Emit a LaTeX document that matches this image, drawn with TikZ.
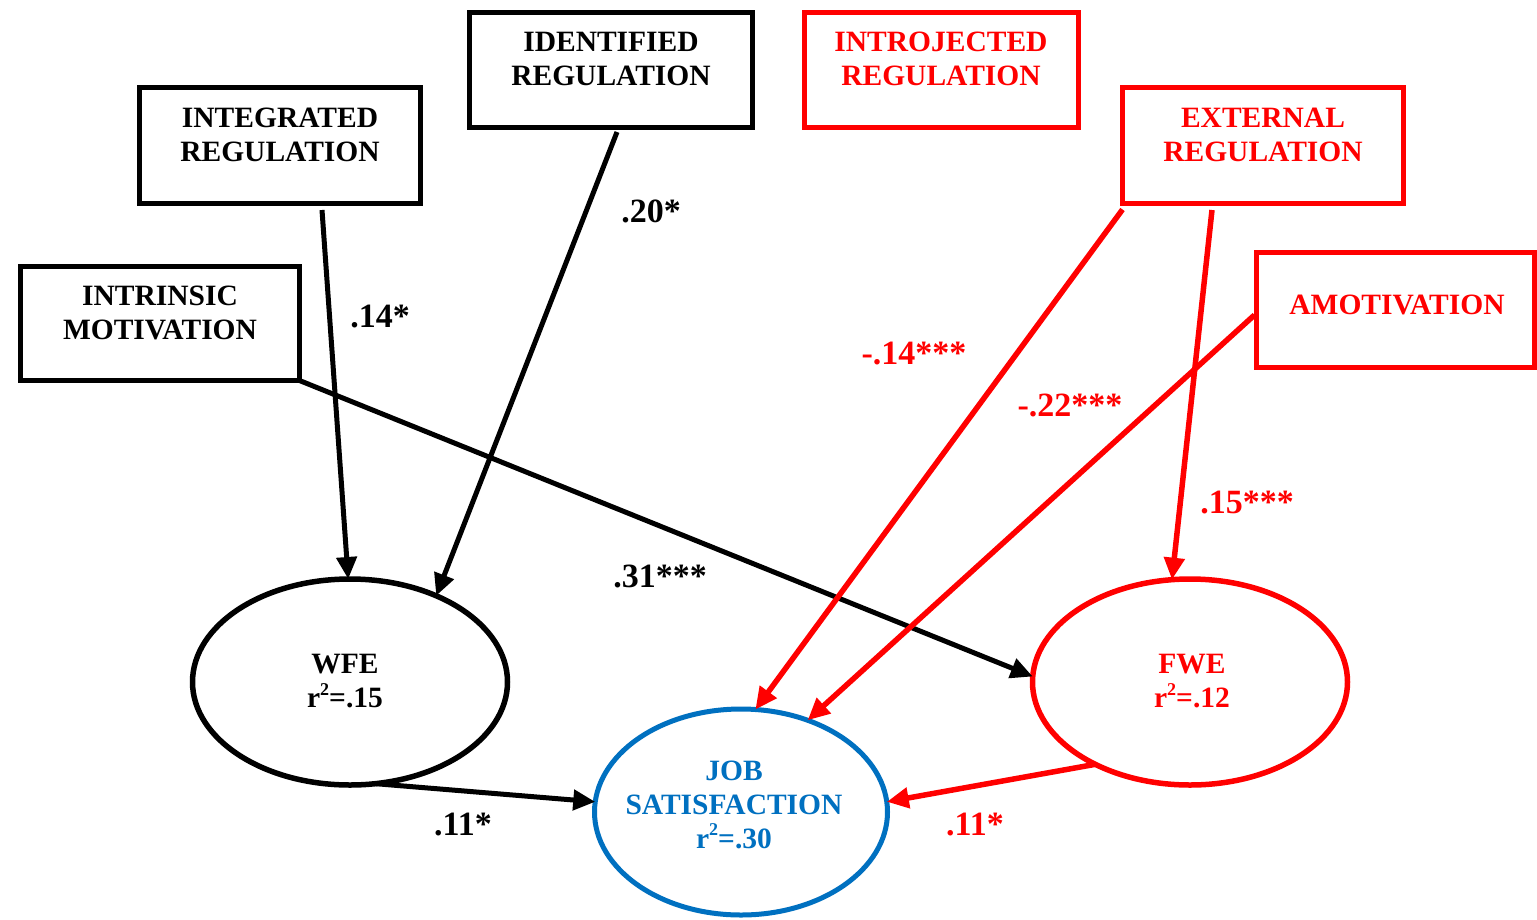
\documentclass[tikz,border=0pt]{standalone}
\usepackage{fontspec}
\setmainfont{Liberation Serif}
\usetikzlibrary{arrows.meta,calc,shapes.geometric}
\definecolor{jsblue}{HTML}{0070C0}
\definecolor{pured}{HTML}{FF0000}
\newcommand{\sqsup}{\raisebox{0.42em}{\fontsize{18}{18}\selectfont 2}}
\begin{document}
\begin{tikzpicture}[x=1pt,y=-1pt,
  box/.style={draw, line width=5.5pt, rectangle, inner sep=0pt, outer sep=0pt},
  lat/.style={draw, line width=5.5pt, ellipse, inner sep=0pt, outer sep=0pt, minimum width=315pt, minimum height=206pt},
  txt/.style={font=\fontsize{29.5}{34}\selectfont\bfseries, align=center, inner sep=0pt},
  coef/.style={font=\fontsize{34}{38}\selectfont\bfseries, inner sep=0pt},
  arr/.style={line width=5pt, -{Triangle[length=22pt,width=20pt]}},
  rarr/.style={arr, pured, line width=5.5pt}
]
\useasboundingbox (0,0) rectangle (1537,919);
\fill[white] (0,0) rectangle (1537,919);

% boxes
\node[box, minimum width=279pt, minimum height=114pt] (intr) at (160,323.5) {};
\node[box, minimum width=281pt, minimum height=116pt] (integ) at (280,145.5) {};
\node[box, minimum width=283pt, minimum height=115pt] (ident) at (611,70) {};
\node[box, pured, minimum width=274pt, minimum height=115pt] (introj) at (941.5,70) {};
\node[box, pured, minimum width=281pt, minimum height=116pt] (ext) at (1263,145.5) {};
\node[box, pured, minimum width=278pt, minimum height=115pt] (amot) at (1395.5,310) {};

\node[txt] (intrT) at (160,313) {INTRINSIC\\MOTIVATION};
\node[txt] (integT) at (280,134.5) {INTEGRATED\\REGULATION};
\node[txt] (identT) at (611,59) {IDENTIFIED\\REGULATION};
\node[txt, pured] (introjT) at (941,59) {INTROJECTED\\REGULATION};
\node[txt, pured] (extT) at (1263,134.5) {EXTERNAL\\REGULATION};
\node[txt, pured] (amotT) at (1397,305) {AMOTIVATION};

% latent variables
\node[lat] (wfe) at (350,682) {};
\node[lat, pured] (fwe) at (1190,682) {};
\node[lat, jsblue, line width=5pt, minimum width=293pt, minimum height=206pt] (job) at (741,812) {};

\node[txt] (wfeT) at (345,681.5) {WFE\\r\sqsup=.15};
\node[txt, pured] (fweT) at (1192,681.5) {FWE\\r\sqsup=.12};
\node[txt, jsblue] (jobT) at (734,804.5) {JOB\\SATISFACTION\\r\sqsup=.30};

% black paths
\draw[arr] ($(integ.south)+(42,6.5)$) -- (wfe.91);
\draw[arr] ($(ident.south)+(6,4.5)$) -- (wfe.45);
\draw[arr] (intr.south east) -- (fwe.178);
\draw[arr] (wfe.-76) -- (job.176);

% red paths
\draw[rarr] ($(ext.south west)+(0,6)$) -- (job.82);
\draw[rarr] ($(ext.south)+(-51,6.5)$) -- (fwe.100);
\draw[rarr] ($(amot.west)+(-2,5)$) -- (job.54);
\draw[rarr] (fwe.221) -- (job.4);

% coefficients
\node[coef] (c1) at (380,317) {.14*};
\node[coef] (c2) at (651,211) {.20*};
\node[coef] (c3) at (660,576) {.31***};
\node[coef, pured] (c4) at (914,354) {-.14***};
\node[coef, pured] (c5) at (1070,405) {-.22***};
\node[coef, pured] (c6) at (1247,503) {.15***};
\node[coef] (c7) at (463,825) {.11*};
\node[coef, pured] (c8) at (975,825) {.11*};
\end{tikzpicture}
\end{document}
